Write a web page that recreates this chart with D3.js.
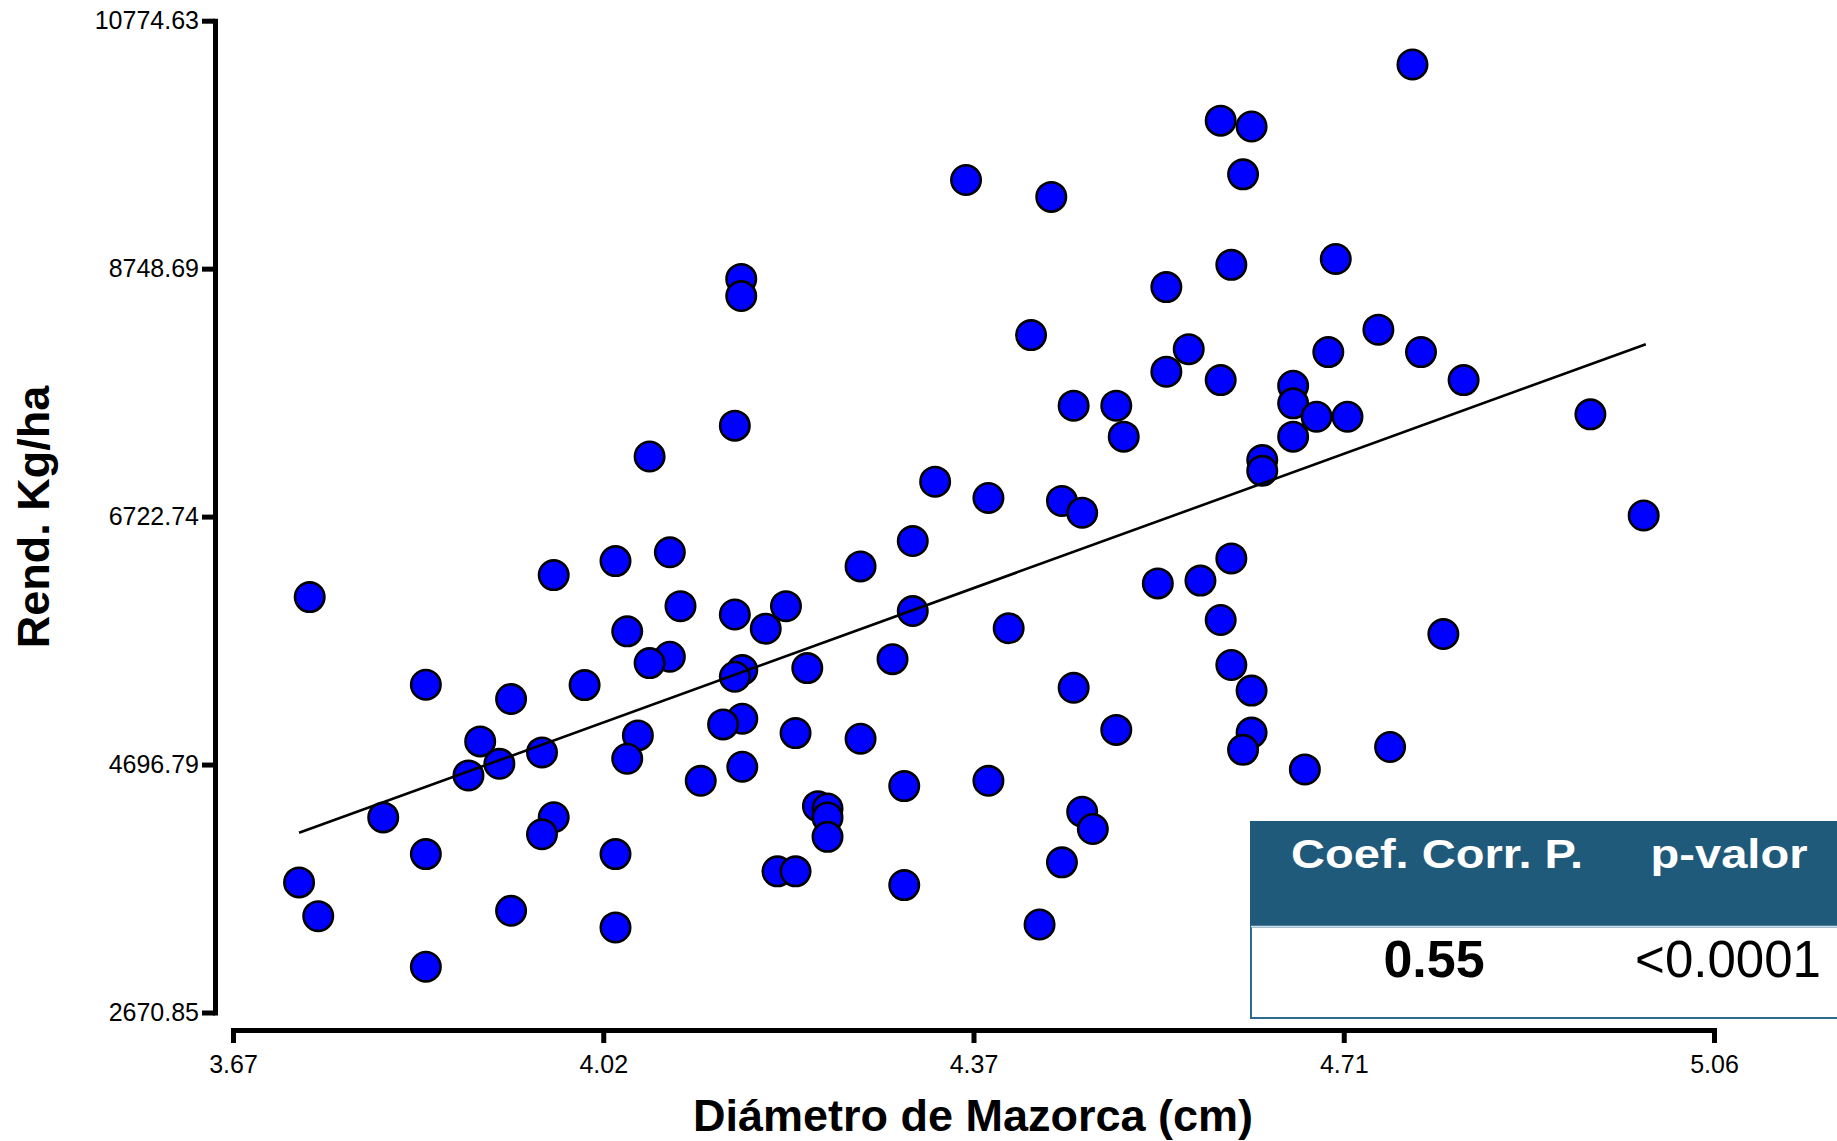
<!DOCTYPE html>
<html>
<head>
<meta charset="utf-8">
<script src="https://cdnjs.cloudflare.com/ajax/libs/d3/7.8.5/d3.min.js"></script>
<style>
  html, body { margin: 0; padding: 0; background: #ffffff; }
  svg { display: block; font-family: "Liberation Sans", Arial, Helvetica, sans-serif; }
</style>
</head>
<body>
<svg id="chart" width="1837" height="1141"></svg>
<script>
// Diámetro de Mazorca (cm)
const diametro = [
  4.777, 4.597, 4.626, 4.618, 4.358, 4.438, 4.705, 4.607, 4.147, 4.147,
  4.546, 4.419, 4.745, 4.567, 4.698, 4.785, 4.546, 4.597, 4.825, 4.665,
  4.665, 4.459, 4.499, 4.687, 4.716, 4.944, 4.141, 4.506, 4.665, 4.061,
  4.636, 4.636, 4.329, 4.379, 4.448, 4.467, 4.994, 4.080, 4.029, 4.308,
  4.607, 4.259, 3.971, 3.742, 4.538, 4.578, 4.090, 4.189, 4.141, 4.308,
  4.597, 4.040, 4.170, 4.398, 4.806, 4.080, 4.061, 4.289, 4.148, 4.141,
  4.209, 4.607, 4.000, 3.851, 4.459, 4.626, 3.931, 4.148, 4.130, 4.499,
  4.626, 4.050, 4.198, 4.259, 3.902, 3.960, 4.618, 4.756, 4.040, 3.920,
  3.891, 4.148, 4.676, 4.109, 4.379, 4.300, 3.811, 3.971, 4.219, 4.228,
  4.228, 4.467, 3.960, 4.228, 4.477, 3.851, 4.029, 4.448, 4.181, 4.198,
  3.732, 4.300, 3.750, 3.931, 4.029, 4.427, 3.851
];
// Rend. Kg/ha
const rendimiento = [
  10417, 9958, 9910, 9519, 9473, 9335, 8828, 8780, 8665, 8525,
  8598, 8206, 8250, 8091, 8067, 8067, 7907, 7838, 7838, 7792,
  7648, 7629, 7629, 7539, 7539, 7558, 7466, 7376, 7376, 7214,
  7185, 7097, 7008, 6875, 6851, 6755, 6732, 6431, 6359, 6523,
  6381, 6316, 6245, 6065, 6177, 6200, 5991, 5991, 5923, 5951,
  5878, 5785, 5807, 5810, 5763, 5578, 5526, 5558, 5469, 5414,
  5485, 5510, 5346, 5349, 5324, 5301, 5232, 5071, 5025, 4980,
  4958, 4935, 4954, 4908, 4886, 4796, 4817, 4840, 4744, 4703,
  4608, 4679, 4657, 4564, 4564, 4521, 4265, 4266, 4357, 4338,
  4265, 4311, 4127, 4106, 4170, 3965, 3965, 3898, 3824, 3824,
  3734, 3712, 3458, 3502, 3366, 3390, 3045
];
// fitted trend line
const fitX = [3.732, 4.996];
const fitY = [4139, 8131];

const xTickValues = [3.67, 4.0175, 4.365, 4.7125, 5.06];
const xTickLabels = ["3.67", "4.02", "4.37", "4.71", "5.06"];
const yTickValues = [2670.85, 4696.79, 6722.74, 8748.69, 10774.63];
const yTickLabels = ["2670.85", "4696.79", "6722.74", "8748.69", "10774.63"];

const tableHeaders = ["Coef. Corr. P.", "p-valor"];
const tableValues = ["0.55", "<0.0001"];

const svg = d3.select("#chart");

const x = d3.scaleLinear().domain([3.67, 5.06]).range([233, 1714]);
const y = d3.scaleLinear().domain([2670.85, 10774.63]).range([1012.5, 20.7]);

// Y axis
const yAxis = svg.append("g")
  .attr("transform", "translate(215,0)")
  .call(d3.axisLeft(y).tickValues(yTickValues)
    .tickFormat((d, i) => yTickLabels[i])
    .tickSize(13).tickSizeOuter(0).tickPadding(3));
yAxis.select(".domain").attr("stroke", "#000").attr("stroke-width", 5).attr("stroke-linecap", "square");
yAxis.selectAll(".tick line").attr("stroke", "#000").attr("stroke-width", 5);
yAxis.selectAll(".tick text").attr("font-size", 25).attr("fill", "#000")
  .attr("font-family", "'Liberation Sans', Arial, sans-serif");

// X axis
const xAxis = svg.append("g")
  .attr("transform", "translate(0,1030)")
  .call(d3.axisBottom(x).tickValues(xTickValues)
    .tickFormat((d, i) => xTickLabels[i])
    .tickSize(13).tickSizeOuter(0).tickPadding(12));
xAxis.select(".domain").attr("stroke", "#000").attr("stroke-width", 5).attr("stroke-linecap", "square");
xAxis.selectAll(".tick line").attr("stroke", "#000").attr("stroke-width", 5);
xAxis.selectAll(".tick text").attr("font-size", 25).attr("fill", "#000")
  .attr("font-family", "'Liberation Sans', Arial, sans-serif");

// Axis titles
svg.append("text")
  .attr("transform", "translate(49,517) rotate(-90)")
  .attr("text-anchor", "middle")
  .attr("font-size", 45).attr("font-weight", "bold").attr("fill", "#000")
  .text("Rend. Kg/ha");

svg.append("text")
  .attr("x", 973).attr("y", 1131)
  .attr("text-anchor", "middle")
  .attr("font-size", 45).attr("font-weight", "bold").attr("fill", "#000")
  .text("Diámetro de Mazorca (cm)");

// Points
const pts = diametro.map((d, i) => ({ x: d, y: rendimiento[i] }));
svg.append("g").selectAll("circle").data(pts).join("circle")
  .attr("cx", d => x(d.x))
  .attr("cy", d => y(d.y))
  .attr("r", 14.7)
  .attr("fill", "#0000ff")
  .attr("stroke", "#000")
  .attr("stroke-width", 2.6);

// Trend line
const fit = fitX.map((d, i) => [d, fitY[i]]);
svg.append("path")
  .datum(fit)
  .attr("fill", "none")
  .attr("stroke", "#000")
  .attr("stroke-width", 2.6)
  .attr("d", d3.line().x(d => x(d[0])).y(d => y(d[1])));

// Table
const tbl = svg.append("g");
tbl.append("rect")
  .attr("x", 1251).attr("y", 926.5).attr("width", 620).attr("height", 91.5)
  .attr("fill", "#ffffff").attr("stroke", "#2c6a8f").attr("stroke-width", 2);
tbl.append("rect")
  .attr("x", 1250).attr("y", 821).attr("width", 620).attr("height", 105.5)
  .attr("fill", "#1f5a7b");
tbl.append("line")
  .attr("x1", 1251).attr("x2", 1837).attr("y1", 926.5).attr("y2", 926.5)
  .attr("stroke", "#cfe0ea").attr("stroke-width", 1.5);

const colX = [1437, 1729];
const headerLen = [292, 157];
tbl.selectAll("text.hdr").data(tableHeaders).join("text")
  .attr("class", "hdr")
  .attr("x", (d, i) => colX[i]).attr("y", 868)
  .attr("text-anchor", "middle")
  .attr("font-size", 41).attr("font-weight", "bold").attr("fill", "#ffffff")
  .attr("textLength", (d, i) => headerLen[i])
  .attr("lengthAdjust", "spacingAndGlyphs")
  .text(d => d);

tbl.selectAll("text.val").data(tableValues).join("text")
  .attr("class", "val")
  .attr("x", (d, i) => i === 0 ? 1434 : 1728).attr("y", 977)
  .attr("text-anchor", "middle")
  .attr("font-size", (d, i) => i === 0 ? 52 : 51)
  .attr("font-weight", (d, i) => i === 0 ? "bold" : "normal")
  .attr("fill", "#000")
  .text(d => d);
</script>
</body>
</html>
